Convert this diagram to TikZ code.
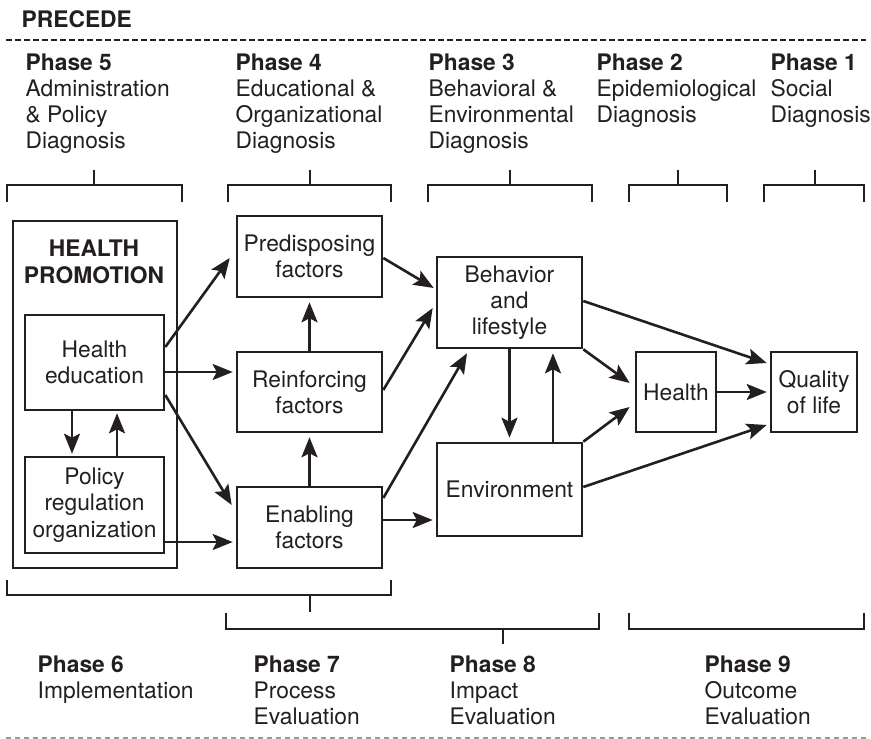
\documentclass[tikz,border=0pt]{standalone}
\usepackage{fontspec}
\setmainfont{TeX Gyre Heros}
\usetikzlibrary{arrows.meta}
\definecolor{ink}{HTML}{231F20}
\definecolor{lightink}{HTML}{9A9A9A}
\newcommand\fz{\fontsize{22.8}{26.3}\selectfont}
\tikzset{
  ln/.style={draw=ink, line width=2.6pt},
  box/.style={draw=ink, line width=2.6pt, inner sep=0pt, align=center, font=\fz, text=ink},
  arr/.style={draw=ink, line width=2.6pt, -{Stealth[length=20pt,width=16pt,inset=4pt]}},
  lbl/.style={anchor=base west, inner sep=0pt, align=left, font=\fz, text=ink},
}
\begin{document}
\begin{tikzpicture}[x=1pt,y=-1pt]
\useasboundingbox (0,0) rectangle (871,739);

% header (multi-line labels are anchored at the baseline of their last line)
\node[lbl] (precede) at (21.5,27) {\textbf{PRECEDE}};
\draw[ink, line width=2.4pt, dash pattern=on 5.5pt off 3.5pt] (6,40) -- (866,40);

% phase labels top
\node[lbl] (p5) at (25.5,148.9) {\textbf{Phase 5}\\Administration\\\& Policy\\Diagnosis};
\node[lbl] (p4) at (235.5,148.9) {\textbf{Phase 4}\\Educational \&\\Organizational\\Diagnosis};
\node[lbl] (p3) at (428.5,148.9) {\textbf{Phase 3}\\Behavioral \&\\Environmental\\Diagnosis};
\node[lbl] (p2) at (596.5,122.6) {\textbf{Phase 2}\\Epidemiological\\Diagnosis};
\node[lbl] (p1) at (770.5,122.6) {\textbf{Phase 1}\\Social\\Diagnosis};

% top brackets
\draw[ln] (7,202) -- (7,185) -- (182,185) -- (182,202) (94,185) -- (94,170);
\draw[ln] (228,202) -- (228,185) -- (391,185) -- (391,202) (310,185) -- (310,170);
\draw[ln] (428,202) -- (428,185) -- (592,185) -- (592,202) (510,185) -- (510,170);
\draw[ln] (629,202) -- (629,185) -- (727,185) -- (727,202) (678,185) -- (678,170);
\draw[ln] (764,202) -- (764,185) -- (864,185) -- (864,202) (815,185) -- (815,170);

% boxes
\node[box, minimum width=164pt, minimum height=347pt] (hp) at (95,394.5) {};
\node[lbl, anchor=base, align=center] (hptext) at (94,283) {\textbf{HEALTH}\\\textbf{PROMOTION}};
\node[box, minimum width=139pt, minimum height=95pt] (he) at (94.5,362.5) {Health\\education};
\node[box, minimum width=139pt, minimum height=96pt] (pol) at (94.5,505) {Policy\\regulation\\organization};
\node[box, minimum width=145pt, minimum height=81pt] (pre) at (309.5,256.5) {Predisposing\\factors};
\node[box, minimum width=145pt, minimum height=80pt] (rei) at (309.5,392) {Reinforcing\\factors};
\node[box, minimum width=145pt, minimum height=81pt] (ena) at (309.5,527.5) {Enabling\\factors};
\node[box, minimum width=145pt, minimum height=91pt] (beh) at (509.5,302.5) {Behavior\\and\\lifestyle};
\node[box, minimum width=145pt, minimum height=93pt] (env) at (509.5,489.5) {Environment};
\node[box, minimum width=80pt, minimum height=80pt] (hea) at (676,392) {Health};
\node[box, minimum width=86pt, minimum height=80pt] (qol) at (814,392) {Quality\\of life};

% arrows
\draw[arr] ([yshift=15.5pt]he.east) -- ([xshift=-6pt,yshift=-1.5pt]pre.west);
\draw[arr] ([yshift=-9.5pt]he.east) -- ([xshift=-3pt,yshift=20pt]rei.west);
\draw[arr] ([yshift=-32.5pt]he.east) -- ([xshift=-4pt,yshift=22.5pt]ena.west);
\draw[arr] ([xshift=-22.5pt]he.south) -- ([xshift=-22.5pt,yshift=2pt]pol.north);
\draw[arr] ([xshift=22.5pt]pol.north) -- ([xshift=22.5pt,yshift=-2pt]he.south);
\draw[arr] ([yshift=-37pt]pol.east) -- ([xshift=-3pt,yshift=-14.5pt]ena.west);
\draw[arr] (rei.north) -- ([yshift=-4pt]pre.south);
\draw[arr] (ena.north) -- ([yshift=-4pt]rei.south);
\draw[arr] ([yshift=-1.5pt]pre.east) -- ([xshift=-2pt,yshift=14.5pt]beh.west);
\draw[arr] ([yshift=2pt]rei.east) -- ([xshift=-3pt,yshift=-5.5pt]beh.west);
\draw[arr] ([yshift=29.5pt]ena.east) -- ([xshift=-42.5pt,yshift=-4pt]beh.south);
\draw[arr] ([yshift=7.5pt]ena.east) -- ([xshift=-3pt,yshift=-30.5pt]env.west);
\draw[arr] (beh.south) -- ([yshift=4pt]env.north);
\draw[arr] ([xshift=43.5pt]env.north) -- ([xshift=43.5pt,yshift=-4pt]beh.south);
\draw[arr] (beh.south east) -- ([xshift=-5pt,yshift=9pt]hea.west);
\draw[arr] (env.north east) -- ([xshift=-5pt,yshift=-15pt]hea.west);
\draw[arr] ([yshift=1.5pt]beh.east) -- ([xshift=-3pt,yshift=29pt]qol.west);
\draw[arr] (hea.east) -- ([xshift=-3pt]qol.west);
\draw[arr] ([yshift=2.5pt]env.east) -- ([xshift=-3pt,yshift=-33pt]qol.west);

% bottom brackets
\draw[ln] (7,580) -- (7,595) -- (391,595) -- (391,580) (310,595) -- (310,612);
\draw[ln] (226,613) -- (226,629) -- (599,629) -- (599,613) (503,629) -- (503,644);
\draw[ln] (629,613) -- (629,629) -- (864,629) -- (864,613);

% phase labels bottom
\node[lbl] (p6) at (37.5,698.3) {\textbf{Phase 6}\\Implementation};
\node[lbl] (p7) at (253.5,724.6) {\textbf{Phase 7}\\Process\\Evaluation};
\node[lbl] (p8) at (449.5,724.6) {\textbf{Phase 8}\\Impact\\Evaluation};
\node[lbl] (p9) at (704.5,724.6) {\textbf{Phase 9}\\Outcome\\Evaluation};

\draw[lightink, line width=1.1pt, dash pattern=on 5pt off 4pt] (6,738) -- (866,738);
\end{tikzpicture}
\end{document}
